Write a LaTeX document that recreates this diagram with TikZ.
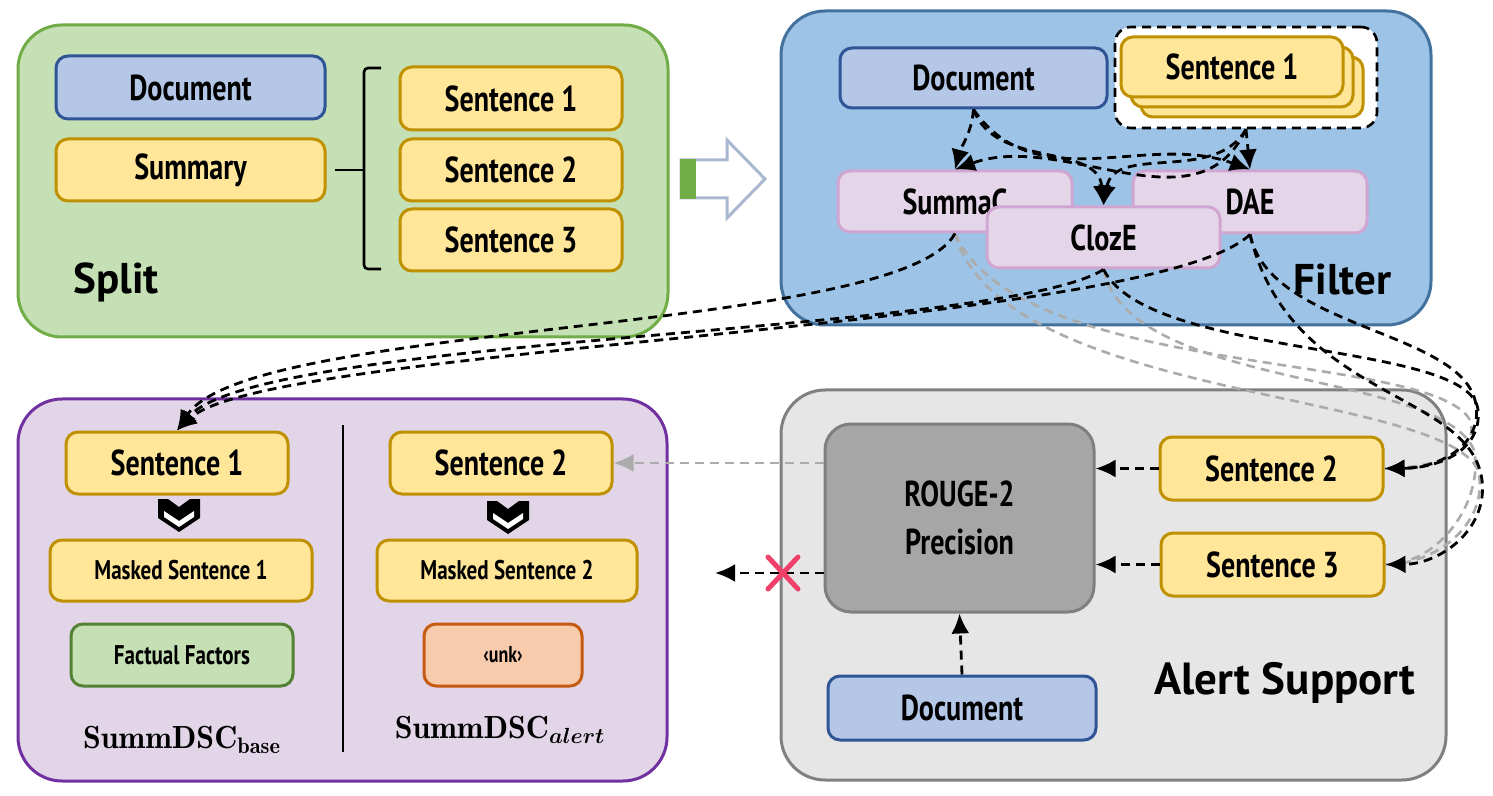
\documentclass[tikz,border=0pt]{standalone}
\usepackage{fontspec}
\usepackage{bm}
\usepackage{tikz}
\usetikzlibrary{arrows.meta}
\newfontfamily\boxfont{PT Sans}[FakeStretch=0.78]
\newfontfamily\titlefont{PT Sans}
\definecolor{splitfill}{HTML}{C5E0B4}
\definecolor{splitline}{HTML}{70AD47}
\definecolor{filterfill}{HTML}{9DC3E6}
\definecolor{filterline}{HTML}{41719C}
\definecolor{dscfill}{HTML}{E1D5E7}
\definecolor{dscline}{HTML}{7030A0}
\definecolor{alertfill}{HTML}{E7E6E6}
\definecolor{alertline}{HTML}{808080}
\definecolor{docfill}{HTML}{B4C7E7}
\definecolor{docline}{HTML}{2F5597}
\definecolor{sentfill}{HTML}{FFE699}
\definecolor{sentline}{HTML}{BF9000}
\definecolor{modelfill}{HTML}{E5D5E8}
\definecolor{modelline}{HTML}{CFA5D2}
\definecolor{rougefill}{HTML}{A6A6A6}
\definecolor{rougeline}{HTML}{7F7F7F}
\definecolor{factfill}{HTML}{C5E0B4}
\definecolor{factline}{HTML}{548235}
\definecolor{unkfill}{HTML}{F8CBAD}
\definecolor{unkline}{HTML}{C55A11}
\definecolor{crossred}{HTML}{F0406A}
\definecolor{arrowline}{HTML}{A9B7D0}
\definecolor{grayline}{HTML}{ABABAB}

\begin{document}
\begin{tikzpicture}[x=0.5pt,y=-0.5pt]
\tikzstyle{box}=[rectangle,rounded corners=6pt,align=center,draw,line width=1.5pt,inner sep=0pt,
                 font=\boxfont\bfseries\fontsize{18}{21}\selectfont]
\tikzstyle{docbox}=[box,fill=docfill,draw=docline]
\tikzstyle{sentbox}=[box,fill=sentfill,draw=sentline]
\tikzstyle{modelbox}=[box,fill=modelfill,draw=modelline]
\tikzstyle{smallbox}=[font=\boxfont\bfseries\fontsize{13.5}{16}\selectfont]
\tikzstyle{panel}=[rounded corners=22pt,line width=1.5pt]
\tikzstyle{title}=[inner sep=0pt,font=\titlefont\bfseries\fontsize{21.5}{25}\selectfont]
\tikzstyle{flow}=[dash pattern=on 4.5pt off 3pt,line width=1.4pt,-{Latex[length=10pt,width=9pt]}]
\tikzstyle{grayflow}=[dash pattern=on 4.5pt off 3pt,line width=1.3pt,color=grayline]
\useasboundingbox (0,0) rectangle (1493,796);

% panels
\draw[panel,fill=splitfill,draw=splitline] (18,25) rectangle (668,337);
\draw[panel,fill=filterfill,draw=filterline] (781,11) rectangle (1431,325);
\draw[panel,fill=dscfill,draw=dscline] (18,399) rectangle (667,781);
\draw[panel,fill=alertfill,draw=alertline] (781,390) rectangle (1446,780);

% split
\node[docbox,minimum width=134.5pt,minimum height=31.5pt] (doc1) at (190.5,87.5) {Document};
\node[sentbox,minimum width=134.5pt,minimum height=31pt] (summ) at (190.5,170) {Summary};
\node[sentbox,minimum width=111pt,minimum height=31.5pt] (s1a) at (511,98.5) {Sentence 1};
\node[sentbox,minimum width=111pt,minimum height=31pt] (s2a) at (511,170) {Sentence 2};
\node[sentbox,minimum width=111pt,minimum height=31pt] (s3a) at (511,240) {Sentence 3};
\draw[line width=1.3pt,rounded corners=2pt] (381,68) -- (364,68) -- (364,269) -- (381,269);
\draw[line width=1.3pt] (summ.east) ++(8,0) -- (364,170);
\node[title,anchor=west] (splitlbl) at (73,282) {Split};

% block arrow
\draw[line width=1.5pt,draw=arrowline,fill=white] (681,160) -- (727,160) -- (727,140) -- (765,179)
      -- (727,218) -- (727,198) -- (681,198) -- cycle;
\fill[splitline] (680,159) rectangle (696,199);

% filter
\node[docbox,minimum width=133.5pt,minimum height=30pt] (doc2) at (973.5,78) {Document};
\node[rectangle,rounded corners=8pt,draw,dash pattern=on 4.5pt off 3pt,line width=1.3pt,fill=white,
      minimum width=131pt,minimum height=50.5pt] (stack) at (1246,77.5) {};
\node[sentbox,minimum width=111pt,minimum height=30pt] (st3) at (1252,87) {};
\node[sentbox,minimum width=111pt,minimum height=30pt] (st2) at (1242,77) {};
\node[sentbox,minimum width=111pt,minimum height=30pt] (st1) at (1232,67) {Sentence 1};
\node[modelbox,minimum width=117pt,minimum height=30.5pt] (summac) at (955,201.5) {SummaC};
\node[modelbox,minimum width=117pt,minimum height=31pt] (dae) at (1250,202) {DAE};
\node[modelbox,minimum width=116.5pt,minimum height=30.5pt] (cloze) at (1103.5,237.5) {ClozE};
\node[title,anchor=east] (filterlbl) at (1392,280) {Filter};

\draw[flow] (doc2.south) to[out=-95,in=75] (summac.north);
\draw[flow] (doc2.south) to[out=-70,in=95] (cloze.north);
\draw[flow] (doc2.south) to[out=-55,in=160] (dae.north);
\draw[flow] (stack.south) to[out=-115,in=20] (summac.north);
\draw[flow] (stack.south) to[out=-120,in=80] (cloze.north);
\draw[flow] (stack.south) -- (dae.north);

% summdsc
\node[sentbox,minimum width=111pt,minimum height=31pt] (sb1) at (177,463) {Sentence 1};
\node[sentbox,smallbox,minimum width=131pt,minimum height=30.5pt] (msk1) at (181,570.5) {Masked Sentence 1};
\node[box,smallbox,fill=factfill,draw=factline,minimum width=111pt,minimum height=31pt] (fact) at (182,655) {Factual Factors};
\node[font=\fontsize{16}{18}\selectfont] (baselbl) at (182,740) {$\mathbf{SummDSC}_{\mathbf{base}}$};
\draw[line width=1.3pt] (343,425) -- (343,752);
\node[sentbox,minimum width=111pt,minimum height=31pt] (sb2) at (501,463) {Sentence 2};
\node[sentbox,smallbox,minimum width=130pt,minimum height=30.5pt] (msk2) at (507,570.5) {Masked Sentence 2};
\node[box,fill=unkfill,draw=unkline,minimum width=79pt,minimum height=31pt,
      font=\boxfont\bfseries\fontsize{11.5}{13}\selectfont] (unk) at (503,655) {‹unk›};
\node[font=\fontsize{16}{18}\selectfont] (alertdsc) at (500,730) {$\mathbf{SummDSC}_{\bm{alert}}$};
\foreach \cx/\cy in {179/515,508/517}{
  \begin{scope}[shift={(\cx,\cy)}]
    \fill (-21,-16) -- (-11,-16) -- (0,-8) -- (11,-16) -- (21,-16) -- (21,3) -- (0,17) -- (-21,3) -- cycle;
    \fill[white] (-15,-4) -- (0,6) -- (15,-4) -- (15,2) -- (0,12) -- (-15,2) -- cycle;
  \end{scope}
}

% alert support
\node[box,rounded corners=13pt,fill=rougefill,draw=rougeline,minimum width=134.5pt,minimum height=94pt,
      font=\boxfont\bfseries\fontsize{18}{24}\selectfont] (rouge) at (959.5,518) {ROUGE-2\\Precision};
\node[sentbox,minimum width=111.5pt,minimum height=31.5pt] (s2b) at (1271.5,468.5) {Sentence 2};
\node[sentbox,minimum width=111.5pt,minimum height=31.5pt] (s3b) at (1272.5,564.5) {Sentence 3};
\node[docbox,minimum width=134pt,minimum height=32pt] (doc3) at (962,708) {Document};
\node[title,anchor=east,font=\titlefont\bfseries\fontsize{22.5}{26}\selectfont] (alertlbl) at (1416,683) {Alert Support};

\draw[flow] (s2b.west) -- (rouge.east |- s2b.west);
\draw[flow] (s3b.west) -- (rouge.east |- s3b.west);
\draw[flow] (doc3.north) -- (rouge.south);
\coordinate (reject) at (715,573);
\draw[flow] (rouge.west |- reject) -- (reject);
\draw[crossred,line width=2.5pt,line cap=round] (768,557) -- (798,589) (798,557) -- (768,589);
\draw[grayflow,-{Latex[length=10pt,width=9pt]}] (rouge.west |- sb2.east) -- (sb2.east);

% gray curves
\draw[grayflow] (summac.south) .. controls (1020,380) and (1430,350) .. (1470,420)
      .. controls (1480,450) and (1440,468) .. (s2b.east);
\draw[grayflow] (summac.south) .. controls (1000,400) and (1440,390) .. (1478,470)
      .. controls (1490,520) and (1440,564) .. (s3b.east);
\draw[grayflow] (cloze.south) .. controls (1130,390) and (1440,370) .. (1474,450)
      .. controls (1484,500) and (1440,564) .. (s3b.east);

% black curves
\draw[flow] (summac.south) .. controls (900,335) and (250,320) .. (sb1.north);
\draw[flow] (cloze.south) .. controls (1000,335) and (260,335) .. (sb1.north);
\draw[flow] (dae.south) .. controls (1150,330) and (270,345) .. (sb1.north);
\draw[flow] (cloze.south) .. controls (1150,360) and (1470,340) .. (1478,410)
      .. controls (1482,450) and (1440,468) .. (s2b.east);
\draw[flow] (dae.south) .. controls (1270,330) and (1465,330) .. (1476,405)
      .. controls (1482,445) and (1440,468) .. (s2b.east);
\draw[flow] (dae.south) .. controls (1290,400) and (1470,390) .. (1482,480)
      .. controls (1488,530) and (1440,564) .. (s3b.east);
\end{tikzpicture}
\end{document}
